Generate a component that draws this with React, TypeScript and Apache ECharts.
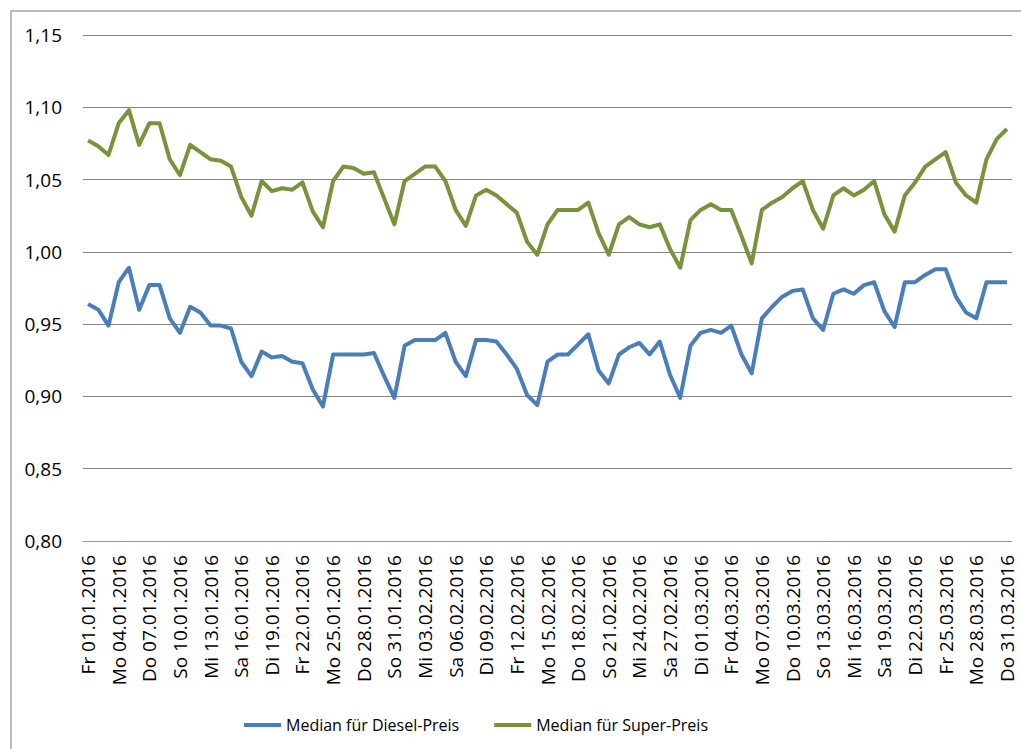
import React, { useEffect, useRef } from "react";
import * as echarts from "echarts";

const WEEKDAYS = ["So", "Mo", "Di", "Mi", "Do", "Fr", "Sa"];
const START_DATE = [2016, 0, 1];
const DAY_COUNT = 91;

function buildCategories(): string[] {
  const out: string[] = [];
  for (let i = 0; i < DAY_COUNT; i++) {
    const d = new Date(Date.UTC(START_DATE[0], START_DATE[1], START_DATE[2] + i));
    const dd = String(d.getUTCDate()).padStart(2, "0");
    const mm = String(d.getUTCMonth() + 1).padStart(2, "0");
    out.push(`${WEEKDAYS[d.getUTCDay()]} ${dd}.${mm}.${d.getUTCFullYear()}`);
  }
  return out;
}

const categories = buildCategories();

const seriesNames = ["Median für Diesel-Preis", "Median für Super-Preis"];

const dieselValues = [
  0.964, 0.96, 0.949, 0.979, 0.989, 0.96, 0.977, 0.977, 0.954, 0.944,
  0.962, 0.958, 0.949, 0.949, 0.947, 0.924, 0.914, 0.931, 0.927, 0.928,
  0.924, 0.923, 0.905, 0.893, 0.929, 0.929, 0.929, 0.929, 0.93, 0.914,
  0.899, 0.935, 0.939, 0.939, 0.939, 0.944, 0.924, 0.914, 0.939, 0.939,
  0.938, 0.929, 0.919, 0.901, 0.894, 0.924, 0.929, 0.929, 0.936, 0.943,
  0.918, 0.909, 0.929, 0.934, 0.937, 0.929, 0.938, 0.915, 0.899, 0.935,
  0.944, 0.946, 0.944, 0.949, 0.929, 0.916, 0.954, 0.962, 0.969, 0.973,
  0.974, 0.954, 0.946, 0.971, 0.974, 0.971, 0.977, 0.979, 0.959, 0.948,
  0.979, 0.979, 0.984, 0.988, 0.988, 0.969, 0.958, 0.954, 0.979, 0.979,
  0.979,
];

const superValues = [
  1.077, 1.073, 1.067, 1.089, 1.098, 1.074, 1.089, 1.089, 1.064, 1.053,
  1.074, 1.069, 1.064, 1.063, 1.059, 1.038, 1.025, 1.049, 1.042, 1.044,
  1.043, 1.048, 1.028, 1.017, 1.049, 1.059, 1.058, 1.054, 1.055, 1.037,
  1.019, 1.049, 1.054, 1.059, 1.059, 1.049, 1.029, 1.018, 1.039, 1.043,
  1.039, 1.033, 1.027, 1.007, 0.998, 1.019, 1.029, 1.029, 1.029, 1.034,
  1.013, 0.998, 1.019, 1.024, 1.019, 1.017, 1.019, 1.002, 0.989, 1.022,
  1.029, 1.033, 1.029, 1.029, 1.011, 0.992, 1.029, 1.034, 1.038, 1.044,
  1.049, 1.029, 1.016, 1.039, 1.044, 1.039, 1.043, 1.049, 1.026, 1.014,
  1.039, 1.048, 1.059, 1.064, 1.069, 1.048, 1.039, 1.034, 1.064, 1.078,
  1.085,
];

const Y_MIN = 0.8;
const Y_MAX = 1.15;
const Y_STEP = 0.05;

const FONT = "'Open Sans', 'Noto Sans', sans-serif";

export default function App() {
  const ref = useRef<HTMLDivElement>(null);

  useEffect(() => {
    if (!ref.current) return;
    const chart = echarts.init(ref.current, undefined, { renderer: "svg" });
    chart.setOption({
      animation: false,
      backgroundColor: "#ffffff",
      graphic: [
        {
          type: "rect",
          shape: { x: 11, y: 11, width: 1200, height: 1000 },
          style: { fill: "none", stroke: "#a6a6a6", lineWidth: 1.5 },
          z: -1,
          silent: true,
        },
      ],
      grid: { left: 83, right: 9, top: 35, bottom: 208 },
      legend: {
        data: seriesNames,
        left: 239,
        top: 712,
        icon: "rect",
        itemWidth: 37,
        itemHeight: 4,
        itemGap: 35,
        textStyle: { fontFamily: FONT, fontSize: 16, color: "#000" },
      },
      xAxis: {
        type: "category",
        data: categories,
        boundaryGap: true,
        axisLine: { lineStyle: { color: "#9a9a9a", width: 1.2 } },
        axisTick: { show: false },
        axisLabel: {
          interval: 2,
          rotate: 90,
          margin: 14,
          fontFamily: FONT,
          fontSize: 19,
          color: "#000",
        },
        splitLine: { show: false },
      },
      yAxis: {
        type: "value",
        min: Y_MIN,
        max: Y_MAX,
        interval: Y_STEP,
        axisLine: { show: false },
        axisTick: { show: false },
        axisLabel: {
          margin: 21,
          fontFamily: FONT,
          fontSize: 19,
          color: "#000",
          formatter: (v: number) => v.toFixed(2).replace(".", ","),
        },
        splitLine: { lineStyle: { color: "#868686", width: 1 } },
      },
      series: [
        {
          name: seriesNames[0],
          type: "line",
          data: dieselValues,
          symbol: "none",
          color: "#4a7ebb",
          lineStyle: { color: "#4a7ebb", width: 4, join: "round" },
        },
        {
          name: seriesNames[1],
          type: "line",
          data: superValues,
          symbol: "none",
          color: "#77933c",
          lineStyle: { color: "#77933c", width: 4, join: "round" },
        },
      ],
    });
    return () => chart.dispose();
  }, []);

  return (
    <div
      ref={ref}
      style={{ position: "fixed", left: 0, top: 0, width: 1021, height: 749, background: "#fff" }}
    />
  );
}
